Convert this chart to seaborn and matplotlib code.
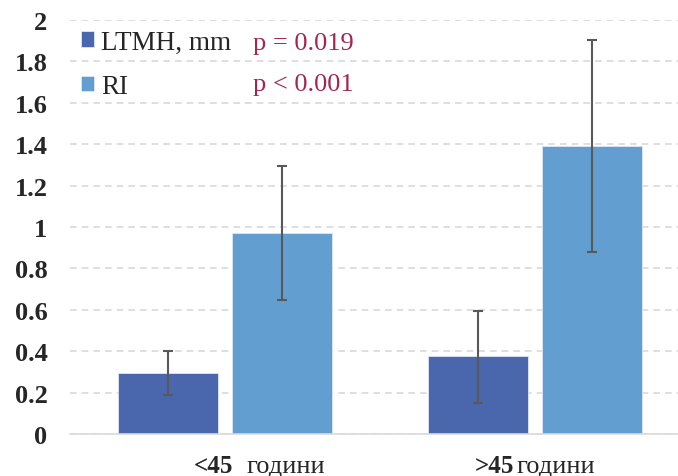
import pandas as pd
import numpy as np
import matplotlib.pyplot as plt
import seaborn as sns

# --- data ---
groups = ['<45', '>45']
series = ['LTMH, mm', 'RI']
ltmh_mean = [0.295, 0.375]
ltmh_low = [0.19, 0.15]
ltmh_high = [0.40, 0.595]
ri_mean = [0.97, 1.39]
ri_low = [0.645, 0.88]
ri_high = [1.295, 1.905]
p_values = ['p = 0.019', 'p < 0.001']
y_ticks = [0, 0.2, 0.4, 0.6, 0.8, 1, 1.2, 1.4, 1.6, 1.8, 2]
y_tick_labels = ['0', '0.2', '0.4', '0.6', '0.8', '1', '1.2', '1.4', '1.6', '1.8', '2']

df = pd.DataFrame({
    'group': groups * 2,
    'series': [series[0]] * 2 + [series[1]] * 2,
    'value': ltmh_mean + ri_mean,
})
lows = [ltmh_low, ri_low]
highs = [ltmh_high, ri_high]
means = [ltmh_mean, ri_mean]

colors = ['#4a66ac', '#629fd0']
serif = ['Liberation Serif', 'DejaVu Serif']

sns.set_style('white')
plt.rcParams['font.family'] = serif

fig = plt.figure(figsize=(6.78, 4.77), dpi=100)
ax = fig.add_axes([0.103, 0.088, 0.897, 0.868])

sns.barplot(data=df, x='group', y='value', hue='series', palette=colors,
            saturation=1, width=0.735, gap=0.12, errorbar=None, ax=ax,
            legend=False, edgecolor='#dfe7f3', linewidth=0.6)

bar_containers = list(ax.containers)

# error bars centred on each bar
for i, cont in enumerate(bar_containers):
    xs = [p.get_x() + p.get_width() / 2 for p in cont.patches]
    m = np.array(means[i])
    lo = m - np.array(lows[i])
    hi = np.array(highs[i]) - m
    ax.errorbar(xs, m, yerr=[lo, hi], fmt='none', ecolor='#595959',
                elinewidth=1.5, capsize=3.5, capthick=1.5, zorder=5)

ax.set_xlim(-0.5, 1.46)
ax.set_ylim(0, 2)
ax.set_yticks(y_ticks)
ax.set_yticklabels(y_tick_labels, fontsize=19, fontweight='bold')
ax.tick_params(axis='y', length=0, pad=16)
ax.tick_params(axis='x', length=0)
ax.set_xticklabels([])
ax.set_xlabel('')
ax.set_ylabel('')
ax.grid(axis='y', color='#d9d9d9', linestyle=(0, (4, 3)), linewidth=1.2)
ax.set_axisbelow(True)
for s in ['left', 'right', 'top']:
    ax.spines[s].set_visible(False)
ax.spines['bottom'].set_color('#d9d9d9')
ax.spines['bottom'].set_linewidth(1.2)

# category labels: bold number + plain word
label_pos = [(-0.1, 0.07), (0.805, 0.94)]
for g, (xb, xw) in zip(groups, label_pos):
    ax.text(xb, -0.183, g, fontsize=18, fontweight='bold', ha='left', va='baseline')
    ax.text(xw, -0.183, 'години', fontsize=19, ha='left', va='baseline')

# legend + p-values
handles = [bar_containers[0].patches[0], bar_containers[1].patches[0]]
leg = ax.legend(handles, series, loc='upper left', bbox_to_anchor=(0.0, 1.003),
                frameon=False, fontsize=19.5, handlelength=0.5, handleheight=0.5,
                handletextpad=0.25, labelspacing=0.72, borderaxespad=0)
for t, yv in zip(p_values, [1.89, 1.69]):
    ax.text(0.089, yv, t, fontsize=19, color='#a3264f', ha='left', va='center')

fig.savefig('out.png', dpi=100)
